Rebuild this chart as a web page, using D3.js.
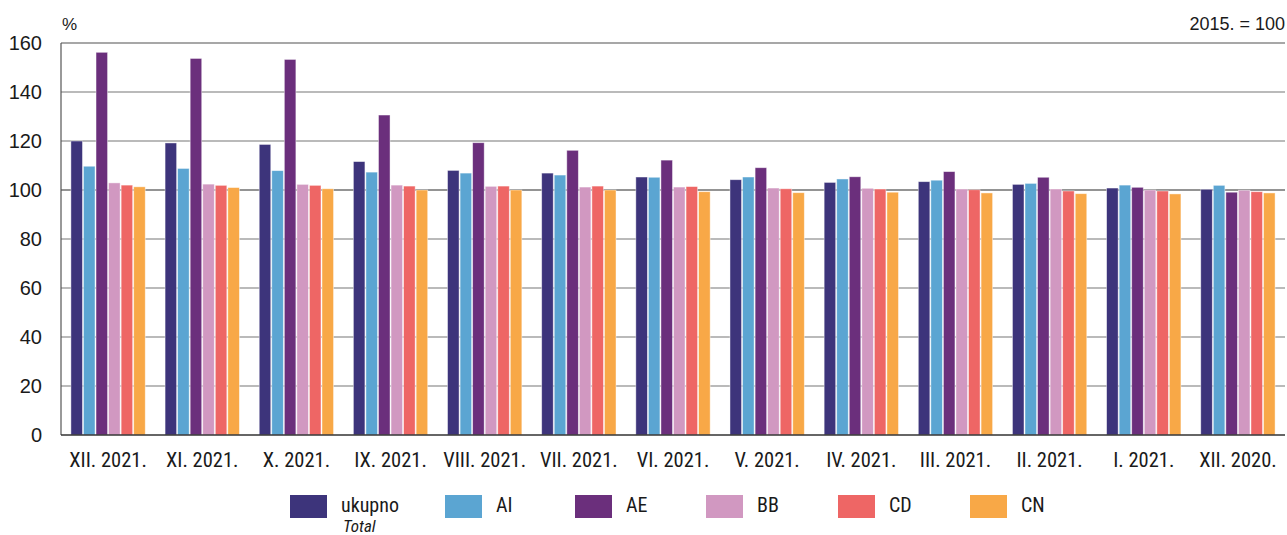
<!DOCTYPE html>
<html>
<head>
<meta charset="utf-8">
<script src="https://cdn.jsdelivr.net/npm/d3@7"></script>
<style>
  html, body { margin: 0; padding: 0; background: #fff; }
  svg { display: block; }
</style>
</head>
<body>
<svg id="chart" width="1287" height="535"></svg>
<script>
const categories = ["XII. 2021.", "XI. 2021.", "X. 2021.", "IX. 2021.", "VIII. 2021.", "VII. 2021.", "VI. 2021.", "V. 2021.", "IV. 2021.", "III. 2021.", "II. 2021.", "I. 2021.", "XII. 2020."];
const seriesNames = ["ukupno", "AI", "AE", "BB", "CD", "CN"];
const seriesColors = ["#3d347b", "#5ba5d2", "#6b2f7c", "#d198c1", "#ee6665", "#f8a847"];
const ukupno = [120.0, 119.2, 118.6, 111.6, 108.0, 106.9, 105.3, 104.2, 103.1, 103.4, 102.3, 100.8, 100.3];
const AI     = [109.7, 108.8, 107.9, 107.3, 106.9, 106.1, 105.2, 105.3, 104.5, 104.0, 102.7, 102.0, 101.9];
const AE     = [156.2, 153.7, 153.3, 130.6, 119.3, 116.2, 112.2, 109.1, 105.4, 107.5, 105.2, 101.1, 99.1];
const BB     = [102.9, 102.4, 102.3, 102.0, 101.5, 101.2, 101.2, 100.8, 100.7, 100.4, 100.4, 100.0, 99.9];
const CD     = [102.0, 101.9, 101.9, 101.6, 101.6, 101.6, 101.4, 100.5, 100.4, 100.1, 99.6, 99.6, 99.3];
const CN     = [101.3, 101.0, 100.5, 100.0, 100.0, 100.0, 99.3, 98.9, 99.1, 98.8, 98.5, 98.4, 98.8];
const yTicks = [0, 20, 40, 60, 80, 100, 120, 140, 160];
const unitLabel = "%";
const baseLabel = "2015. = 100";
const totalSub = "Total";

const seriesValues = [ukupno, AI, AE, BB, CD, CN];
const NARROW = '"Liberation Sans Narrow", "Arial Narrow", "Roboto Condensed", "DejaVu Sans Condensed", sans-serif';
const REG = '"Liberation Sans", Arial, sans-serif';

const svg = d3.select("#chart");
const pLeft = 61, pRight = 1285, pTop = 43, pBottom = 435;

const x0 = d3.scaleBand().domain(categories).range([pLeft, pRight]).paddingInner(0.2).paddingOuter(0.1);
const x1 = d3.scaleBand().domain(seriesNames).range([0, x0.bandwidth()]).padding(0);
const y = d3.scaleLinear().domain([0, 160]).range([pBottom, pTop]);

// gridlines
svg.append("g").selectAll("line").data(yTicks.filter(t => t > 0)).join("line")
  .attr("x1", pLeft).attr("x2", pRight)
  .attr("y1", d => y(d)).attr("y2", d => y(d))
  .attr("stroke", d => d === 100 ? "#707070" : (d === 160 ? "#8a8a8a" : "#a3a3a3"))
  .attr("stroke-width", 1.4);

// bars
const groups = svg.append("g").selectAll("g").data(categories).join("g")
  .attr("transform", d => `translate(${x0(d)},0)`);
groups.selectAll("rect").data((c, i) => seriesNames.map((s, j) => ({ s, j, v: seriesValues[j][i] })))
  .join("rect")
  .attr("x", d => x1(d.s) + 0.5)
  .attr("width", x1.bandwidth() - 1)
  .attr("y", d => y(d.v))
  .attr("height", d => y(0) - y(d.v))
  .attr("fill", d => seriesColors[d.j])
  .attr("stroke", "rgba(255,255,255,0.55)")
  .attr("stroke-width", 0.8);

// axes lines
svg.append("line").attr("x1", pLeft).attr("x2", pLeft).attr("y1", pTop).attr("y2", pBottom)
  .attr("stroke", "#555").attr("stroke-width", 1.2);
svg.append("line").attr("x1", pLeft).attr("x2", pRight).attr("y1", pBottom).attr("y2", pBottom)
  .attr("stroke", "#333").attr("stroke-width", 1.6);

// y tick labels
const yAxis = d3.axisLeft(y).tickValues(yTicks).tickSize(0).tickPadding(19);
const yg = svg.append("g").attr("transform", `translate(${pLeft},0)`).call(yAxis);
yg.select(".domain").remove();
yg.selectAll("text").attr("font-size", 20).attr("fill", "#1a1a1a").style("font-family", REG);

// x labels
const xAxis = d3.axisBottom(x0).tickSize(0).tickPadding(17);
const xg = svg.append("g").attr("transform", `translate(0,${pBottom})`).call(xAxis);
xg.select(".domain").remove();
xg.selectAll("text").attr("font-size", 20.5).attr("fill", "#1a1a1a").style("font-family", NARROW);

// unit labels
svg.append("text").attr("x", 62).attr("y", 30).attr("font-size", 17).attr("fill", "#1a1a1a")
  .style("font-family", REG).text(unitLabel);
svg.append("text").attr("x", 1285).attr("y", 30).attr("text-anchor", "end").attr("font-size", 18).attr("fill", "#1a1a1a")
  .style("font-family", REG).text(baseLabel);

// legend
const legendX = [290, 445, 575, 706, 838, 970];
const leg = svg.append("g").selectAll("g").data(seriesNames).join("g")
  .attr("transform", (d, i) => `translate(${legendX[i]},495)`);
leg.append("rect").attr("width", 37).attr("height", 23).attr("fill", (d, i) => seriesColors[i]);
leg.append("text").attr("x", 51).attr("y", 17).attr("font-size", 20).attr("fill", "#1a1a1a")
  .style("font-family", NARROW).text(d => d);
leg.filter((d, i) => i === 0).append("text").attr("x", 53).attr("y", 36.5).attr("font-size", 17)
  .attr("font-style", "italic").attr("fill", "#1a1a1a")
  .style("font-family", NARROW).text(totalSub);
</script>
</body>
</html>
